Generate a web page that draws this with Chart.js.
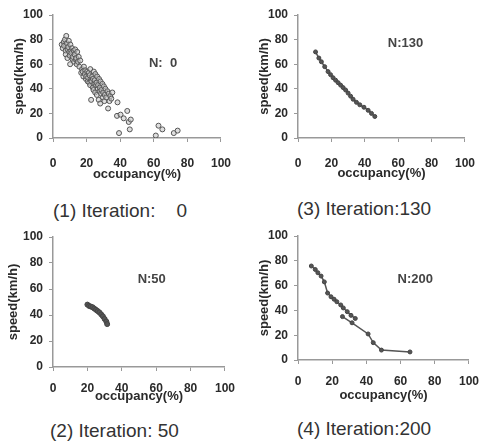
<!DOCTYPE html>
<html>
<head>
<meta charset="utf-8">
<script src="https://cdn.jsdelivr.net/npm/chart.js@4.4.1/dist/chart.umd.min.js"></script>
<style>
  body { margin: 0; background: #fff; }
  #wrap { position: relative; width: 489px; height: 445px; overflow: hidden; }
  canvas { position: absolute; }
  .cap { position: absolute; font-family: "Liberation Sans", Arial, sans-serif; font-size: 19px; color: #333; white-space: pre; line-height: 22px; }
</style>
</head>
<body>
<div id="wrap">
  <canvas id="c1"></canvas>
  <canvas id="c2"></canvas>
  <canvas id="c3"></canvas>
  <canvas id="c4"></canvas>
  <div class="cap" id="cap1"></div>
  <div class="cap" id="cap2"></div>
  <div class="cap" id="cap3"></div>
  <div class="cap" id="cap4"></div>
</div>
<script>
// Iteration 0: raw occupancy / speed scatter
const iter0Occupancy = [5.2, 6.4, 5.8, 7.1, 6.6, 7.5, 7.9, 8.3, 8.8, 7.6, 9.4, 9.0, 9.7, 8.6, 10.3, 10.8, 9.9, 10.2,
  11.4, 10.9, 11.7, 12.3, 11.8, 12.6, 13.2, 12.9, 13.6, 14.4, 13.8, 14.1, 15.3, 14.8, 16.2, 15.7,
  17.3, 16.8, 18.4, 17.7, 18.1, 19.2, 18.9, 19.6, 20.4, 19.8, 20.7,
  21.3, 20.9, 21.6, 22.2, 21.8, 22.6, 22.1, 23.4, 22.9, 23.7, 22.7, 24.3, 23.8, 24.6, 24.1, 25.2, 24.8, 25.6, 25.1,
  26.3, 25.9, 26.7, 26.1, 27.4, 26.8, 27.7, 27.2, 28.3, 27.9, 28.6, 28.1, 29.4, 28.8, 29.7, 30.3, 29.9, 30.6,
  31.2, 30.8, 32.4, 31.7, 33.2, 32.8, 34.1, 33.6, 35.3, 34.7,
  38.4, 38.1, 39.3, 40.2, 42.1, 44.2, 45.1, 46.3, 45.7, 61.2, 62.8, 65.1, 71.9, 74.2];
const iter0Speed = [76, 78, 73, 80, 75, 71, 83, 77, 72, 68, 79, 74, 70, 65, 76, 71, 67, 60,
  73, 69, 64, 71, 66, 62, 72, 68, 64, 70, 65, 60, 66, 62, 63, 58,
  56, 53, 58, 54, 50, 55, 52, 48, 54, 50, 46,
  53, 49, 45, 56, 51, 47, 43, 50, 46, 41, 31, 54, 48, 44, 39, 52, 47, 43, 37,
  50, 45, 40, 35, 48, 43, 38, 31, 46, 41, 36, 28, 44, 39, 33, 42, 37, 30,
  40, 35, 38, 33, 36, 24, 34, 30, 37, 32,
  29, 18, 4, 19, 16, 22, 13, 15, 7, 2, 10, 7, 4, 6];

// Iteration 50
const iter50Occupancy = [20, 21, 22, 23, 24, 25, 26, 27, 28, 29, 30, 31, 31.5];
const iter50Speed = [48, 47, 46.5, 46, 45, 44, 43, 42, 40.5, 39, 37, 35, 33];

// Iteration 130
const iter130Occupancy = [10.5, 12.5, 14, 16, 18, 19.5, 21, 22.5, 24, 25.5, 27, 28.5, 30, 31.5, 33, 35, 37, 39.5, 42, 44, 46];
const iter130Speed = [70, 65, 62, 58, 54, 51.5, 49, 47, 45, 43, 41, 39, 36.5, 34, 31.5, 29, 27, 25, 22.5, 20, 17.5];

// Iteration 200 (two connected runs)
const iter200OccupancyA = [7.8, 10.1, 11.6, 13.5, 15.4, 17.3, 19.3, 21.1, 22.7, 25, 26.5, 28.8, 31, 33.5];
const iter200SpeedA = [75.8, 73, 70.4, 67.7, 63, 54, 51, 49, 47, 44.4, 42, 39, 36, 33.5];
const iter200OccupancyB = [26, 31.6, 41, 44, 48.8, 65.5];
const iter200SpeedB = [35, 30, 21, 14, 8, 6.5];

const captions = ['(1) Iteration:    0', '(2) Iteration: 50', '(3) Iteration:130', '(4) Iteration:200'];
const noteText = ['N:  0', 'N:50', 'N:130', 'N:200'];
const noteOccupancy = [65.5, 57.4, 64.4, 68.6];
const noteSpeed = [61, 67.7, 77, 65];

function toPoints(xs, ys) {
  return xs.map((x, i) => ({ x: x, y: ys[i] }));
}

const noteLabel = {
  id: 'noteLabel',
  afterDatasetsDraw(chart, args, opts) {
    const ctx = chart.ctx;
    const x = chart.scales.x.getPixelForValue(opts.x);
    const y = chart.scales.y.getPixelForValue(opts.y);
    ctx.save();
    ctx.font = 'bold 13px "Liberation Sans", Arial, sans-serif';
    ctx.fillStyle = '#444';
    ctx.textAlign = 'center';
    ctx.textBaseline = 'middle';
    ctx.fillText(opts.text, x, y);
    ctx.restore();
  }
};

// box: canvas left/top/width/height, pl = padding left, yW = y axis width, pr = padding right, pt = padding top, xH = x axis height
function makePanel(id, box, datasets, note, tickPad) {
  const el = document.getElementById(id);
  el.style.left = box.cx + 'px';
  el.style.top = box.cy + 'px';
  el.style.width = box.cw + 'px';
  el.style.height = box.ch + 'px';
  el.width = box.cw;
  el.height = box.ch;
  const tickFont = { family: '"Liberation Sans", Arial, sans-serif', size: 12, weight: 'bold' };
  const titleFont = { family: '"Liberation Sans", Arial, sans-serif', size: 13, weight: 'bold' };
  new Chart(el, {
    type: 'scatter',
    data: { datasets: datasets },
    options: {
      responsive: false,
      animation: false,
      layout: { padding: { left: box.pl, right: box.pr, top: box.pt, bottom: 0 } },
      plugins: {
        legend: { display: false },
        tooltip: { enabled: false },
        noteLabel: note,
      },
      scales: {
        x: {
          type: 'linear',
          min: 0,
          max: 100,
          afterFit: (s) => { s.height = box.xH; },
          ticks: { stepSize: 20, color: '#2a2a2a', font: tickFont, padding: tickPad },
          grid: { drawOnChartArea: false, tickLength: 4, color: '#999' },
          border: { color: '#999', width: 1.5 },
          title: { display: true, text: 'occupancy(%)', color: '#2a2a2a', font: titleFont, padding: 0 },
        },
        y: {
          min: 0,
          max: 100,
          afterFit: (s) => { s.width = box.yW; },
          ticks: { stepSize: 20, color: '#2a2a2a', font: tickFont, padding: 6 },
          grid: { drawOnChartArea: false, tickLength: 4, color: '#999' },
          border: { color: '#999', width: 1.5 },
          title: { display: true, text: 'speed(km/h)', color: '#2a2a2a', font: titleFont, padding: 0 },
        },
      },
    },
    plugins: [noteLabel],
  });
}

function lineSet(xs, ys, r) {
  return {
    data: toPoints(xs, ys),
    showLine: true,
    borderColor: '#555',
    borderWidth: 1.5,
    pointRadius: r,
    pointBackgroundColor: '#555',
    pointBorderColor: '#444',
    pointBorderWidth: 1,
  };
}

makePanel('c1', { cx: 0, cy: 0, cw: 245, ch: 182, pl: 12, yW: 41, pr: 17, pt: 15, xH: 44 }, [{
  data: toPoints(iter0Occupancy, iter0Speed),
  pointRadius: 2.5,
  pointBackgroundColor: 'rgba(200,200,200,0.6)',
  pointBorderColor: '#555',
  pointBorderWidth: 1,
}], { text: noteText[0], x: noteOccupancy[0], y: noteSpeed[0] }, 14);

makePanel('c2', { cx: 245, cy: 0, cw: 244, ch: 181, pl: 12, yW: 41, pr: 17, pt: 15, xH: 43 },
  [lineSet(iter130Occupancy, iter130Speed, 2)],
  { text: noteText[2], x: noteOccupancy[2], y: noteSpeed[2] }, 14);

makePanel('c3', { cx: 0, cy: 222, cw: 245, ch: 182, pl: 5.5, yW: 47.5, pr: 16, pt: 15, xH: 37 },
  [lineSet(iter50Occupancy, iter50Speed, 2.5)],
  { text: noteText[1], x: noteOccupancy[1], y: noteSpeed[1] }, 10);

makePanel('c4', { cx: 245, cy: 222, cw: 244, ch: 181, pl: 12, yW: 41, pr: 16, pt: 14, xH: 43 },
  [lineSet(iter200OccupancyA, iter200SpeedA, 2), lineSet(iter200OccupancyB, iter200SpeedB, 2)],
  { text: noteText[3], x: noteOccupancy[3], y: noteSpeed[3] }, 10);

const capPos = [[53, 200], [50, 420], [297, 198], [297, 418]];
captions.forEach((t, i) => {
  const d = document.getElementById('cap' + (i + 1));
  d.textContent = t;
  d.style.left = capPos[i][0] + 'px';
  d.style.top = capPos[i][1] + 'px';
});
</script>
</body>
</html>
